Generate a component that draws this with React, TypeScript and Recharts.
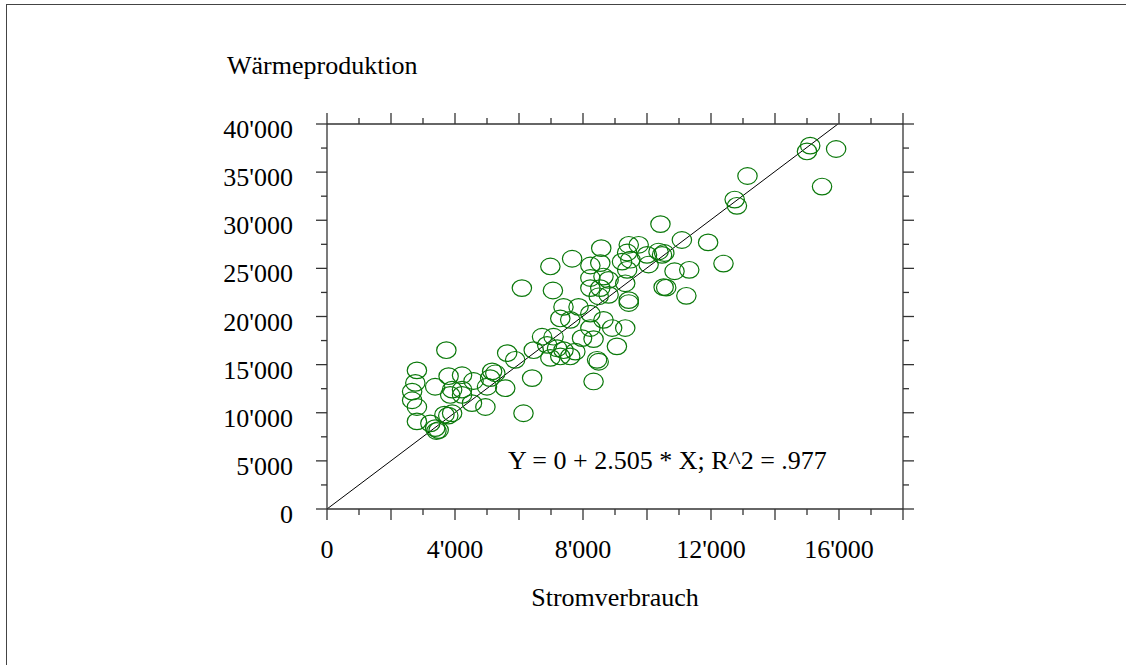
import React from 'react';
import { ScatterChart, Scatter, XAxis, YAxis, ReferenceLine } from 'recharts';

// Stromverbrauch (x) and Wärmeproduktion (y)
const stromverbrauch = [
  3730, 2810, 3380, 2760, 2660, 2660, 2810, 2810, 3230, 3380,
  3490, 3420, 3670, 3790, 3910, 3800, 4220, 3910, 3850, 4220,
  4220, 4530, 4580, 4950, 5000, 5160, 5100, 5260, 5570, 5630,
  5880, 6410, 6140, 6460,
  9430, 7390, 7860, 8230, 7290, 7600, 8640, 8230, 8910, 9320,
  6720, 7080, 7970, 8330, 7190, 7390, 7760, 9060, 6980, 7290,
  7600, 8440, 8490, 8330, 6880,
  10420, 8570, 9430, 9740, 7660, 6980, 8230, 8540, 9380, 9480,
  9220, 10000, 10360, 10470, 10540, 10050, 10860, 9380, 8230, 8640,
  8800, 8230, 8540, 9320, 6090, 7060, 10520, 10600, 8800, 9430,
  11090, 11910, 12390, 11320, 11230, 15100, 15000, 15910, 13140, 15470,
  12740, 12810, 8490,
];
const waermeproduktion = [
  16500, 14400, 12700, 13100, 12200, 11300, 10600, 9100, 8900, 8400,
  8200, 8100, 9800, 9700, 9950, 13800, 13900, 12400, 11850, 12400,
  11850, 11000, 13300, 10600, 12700, 14300, 13600, 14100, 12550, 16200,
  15500, 13600, 9950, 16500,
  21400, 21000, 21000, 20300, 19800, 19650, 19650, 18800, 18800, 18800,
  17900, 17900, 17750, 17650, 16700, 16500, 16350, 16900, 15700, 15850,
  15850, 15500, 15300, 13250, 17050,
  29600, 27100, 27450, 27450, 26000, 25200, 25300, 25550, 26650, 25900,
  25700, 26400, 26750, 26400, 26600, 25400, 24700, 24850, 24000, 24150,
  23800, 22950, 22950, 23450, 22950, 22700, 23050, 23000, 22250, 21700,
  27950, 27700, 25500, 24850, 22150, 37750, 37150, 37400, 34600, 33500,
  32150, 31500, 22100,
];

const regIntercept = 0;
const regSlope = 2.505;
const equationText = "Y = 0 + 2.505 * X; R^2 = .977";
const yTitle = 'Wärmeproduktion';
const xTitle = 'Stromverbrauch';

const xDomain = [0, 18000];
const yDomain = [0, 40000];
const xTicks = [0, 1000, 2000, 3000, 4000, 5000, 6000, 7000, 8000, 9000, 10000, 11000, 12000, 13000, 14000, 15000, 16000, 17000, 18000];
const xMajorTicks = [0, 2000, 4000, 6000, 8000, 10000, 12000, 14000, 16000, 18000];
const xLabelValues = [0, 4000, 8000, 12000, 16000];
const xLabelTexts = ['0', "4'000", "8'000", "12'000", "16'000"];
const yTicks = [0, 2500, 5000, 7500, 10000, 12500, 15000, 17500, 20000, 22500, 25000, 27500, 30000, 32500, 35000, 37500, 40000];
const yLabelValues = [0, 5000, 10000, 15000, 20000, 25000, 30000, 35000, 40000];
const yLabelTexts = ['0', "5'000", "10'000", "15'000", "20'000", "25'000", "30'000", "35'000", "40'000"];

const data = stromverbrauch.map((x, i) => ({ x, y: waermeproduktion[i] }));
const regEndY = yDomain[1];
const regEndX = (regEndY - regIntercept) / regSlope;

const FONT = '"Liberation Serif", "Times New Roman", Times, serif';
const AXIS = '#333333';
const GREEN = '#0a780a';
const FS = 26;
const LONG = 11;
const SHORT = 6;

const BottomTick = (props: any) => {
  const { x, y, payload } = props;
  const v = payload.value;
  const len = xMajorTicks.includes(v) ? LONG : SHORT;
  const idx = xLabelValues.indexOf(v);
  return (
    <g>
      <line x1={x} y1={y} x2={x} y2={y + len} stroke={AXIS} strokeWidth={1.3} />
      {idx >= 0 && (
        <text x={x} y={y + 49} textAnchor="middle" fontSize={FS} fontFamily={FONT} fill="#000">
          {xLabelTexts[idx]}
        </text>
      )}
    </g>
  );
};

const TopTick = (props: any) => {
  const { x, y, payload } = props;
  const len = xMajorTicks.includes(payload.value) ? LONG : SHORT;
  return <line x1={x} y1={y} x2={x} y2={y - len} stroke={AXIS} strokeWidth={1.3} />;
};

const LeftTick = (props: any) => {
  const { x, y, payload } = props;
  const v = payload.value;
  const idx = yLabelValues.indexOf(v);
  const len = idx >= 0 ? LONG : SHORT;
  return (
    <g>
      <line x1={x - len} y1={y} x2={x} y2={y} stroke={AXIS} strokeWidth={1.3} />
      {idx >= 0 && (
        <text x={x - 34} y={y + 14} textAnchor="end" fontSize={FS} fontFamily={FONT} fill="#000">
          {yLabelTexts[idx]}
        </text>
      )}
    </g>
  );
};

const RightTick = (props: any) => {
  const { x, y, payload } = props;
  const len = yLabelValues.includes(payload.value) ? LONG : SHORT;
  return <line x1={x} y1={y} x2={x + len} y2={y} stroke={AXIS} strokeWidth={1.3} />;
};

const EllipseShape = (props: any) => {
  const { cx, cy } = props;
  if (cx == null || cy == null) return <g />;
  return <ellipse cx={cx} cy={cy} rx={9.7} ry={8.3} fill="none" stroke={GREEN} strokeWidth={1.2} />;
};

const Titles = () => (
  <g>
    <text x={227} y={73.5} fontSize={FS} fontFamily={FONT} fill="#000">{yTitle}</text>
    <text x={615} y={606} textAnchor="middle" fontSize={FS} fontFamily={FONT} fill="#000">{xTitle}</text>
    <text x={508} y={468.5} fontSize={FS} fontFamily={FONT} fill="#000">{equationText}</text>
  </g>
);

export default function App() {
  return (
    <div style={{ position: 'absolute', left: 0, top: 0, width: 1126, height: 665, background: '#fff' }}>
      <div
        style={{
          position: 'absolute',
          left: 6,
          top: 4,
          width: 1120,
          height: 661,
          borderTop: '1px solid #444',
          borderLeft: '1px solid #444',
          boxSizing: 'border-box',
        }}
      />
      <div style={{ position: 'absolute', left: 0, top: 0 }}>
        <ScatterChart
          width={1126}
          height={665}
          margin={{ top: 104, right: 203, bottom: 96, left: 227 }}
        >
          <XAxis
            xAxisId="bottom"
            dataKey="x"
            type="number"
            orientation="bottom"
            domain={xDomain}
            ticks={xTicks}
            interval={0}
            height={60}
            tickSize={0}
            tickMargin={0}
            tickLine={false}
            axisLine={{ stroke: AXIS, strokeWidth: 1.3 }}
            tick={(p: any) => <BottomTick {...p} />}
            allowDataOverflow
            label={{ content: () => <Titles /> }}
          />
          <XAxis
            xAxisId="top"
            dataKey="x"
            type="number"
            orientation="top"
            domain={xDomain}
            ticks={xTicks}
            interval={0}
            height={20}
            tickSize={0}
            tickMargin={0}
            tickLine={false}
            axisLine={{ stroke: AXIS, strokeWidth: 1.3 }}
            tick={(p: any) => <TopTick {...p} />}
            allowDataOverflow
          />
          <YAxis
            yAxisId="left"
            dataKey="y"
            type="number"
            orientation="left"
            domain={yDomain}
            ticks={yTicks}
            interval={0}
            width={100}
            tickSize={0}
            tickMargin={0}
            tickLine={false}
            axisLine={{ stroke: AXIS, strokeWidth: 1.3 }}
            tick={(p: any) => <LeftTick {...p} />}
            allowDataOverflow
          />
          <YAxis
            yAxisId="right"
            dataKey="y"
            type="number"
            orientation="right"
            domain={yDomain}
            ticks={yTicks}
            interval={0}
            width={20}
            tickSize={0}
            tickMargin={0}
            tickLine={false}
            axisLine={{ stroke: AXIS, strokeWidth: 1.3 }}
            tick={(p: any) => <RightTick {...p} />}
            allowDataOverflow
          />
          <ReferenceLine
            xAxisId="bottom"
            yAxisId="left"
            segment={[
              { x: 0, y: regIntercept },
              { x: regEndX, y: regEndY },
            ]}
            stroke="#000"
            strokeWidth={1}
            ifOverflow="visible"
          />
          <Scatter
            xAxisId="bottom"
            yAxisId="left"
            data={data}
            shape={(p: any) => <EllipseShape {...p} />}
            isAnimationActive={false}
          />
        </ScatterChart>
      </div>
    </div>
  );
}
